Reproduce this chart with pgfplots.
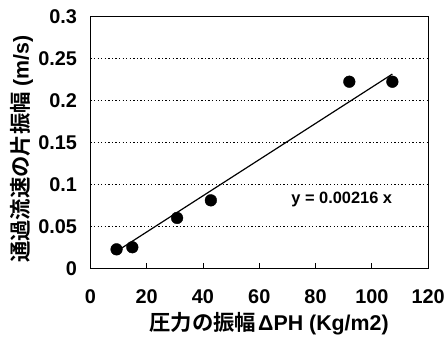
\documentclass[border=0pt]{standalone}
\usepackage{fontspec}
\setmainfont{Liberation Sans}
\newfontfamily\jp{Noto Sans CJK JP}[BoldFont={Noto Sans CJK JP Bold}]
\usepackage{pgfplots}
\pgfplotsset{compat=1.18}
\begin{document}
\begin{tikzpicture}
\begin{axis}[
  scale only axis,
  width=340pt, height=253pt,
  xmin=0, xmax=120, ymin=0, ymax=0.3,
  xtick={0,20,40,60,80,100,120},
  ytick={0,0.05,0.1,0.15,0.2,0.25,0.3},
  yticklabels={0,0.05,0.1,0.15,0.2,0.25,0.3},
  xticklabels={0,20,40,60,80,100,120},
  xtick pos=lower,
  tick align=inside,
  major tick length=5pt,
  x tick style={black, line width=0.7pt},
  y tick style={draw=none},
  ymajorgrids,
  grid style={black, line width=1pt, dash pattern=on 1.3pt off 2.3pt},
  axis line style={black, line width=1.1pt},
  tick label style={font=\bfseries\fontsize{20}{20}\selectfont},
  /pgf/number format/assume math mode=true,
  xticklabel style={yshift=-18pt},
  yticklabel style={xshift=-10pt},
  xlabel={{\jp\bfseries 圧力の振幅}\hspace{2pt}\textbf{ΔPH (Kg/m2)}},
  ylabel={{\jp\bfseries 通過流速の片振幅}\textbf{ (m/s)}},
  xlabel style={font=\fontsize{21.5}{21.5}\selectfont, at={(axis description cs:0.529,-0.221)}, anchor=center},
  ylabel style={font=\fontsize{21.5}{21.5}\selectfont, at={(axis description cs:-0.203,0.474)}, anchor=center},
  clip=false,
]
\addplot[only marks, mark=*, mark size=5.9pt, black] coordinates {
  (9.3,0.0225) (14.9,0.025) (30.8,0.060) (42.8,0.081) (92.0,0.2226) (107.3,0.2226)
};
\addplot[black, line width=1.2pt, no marks] coordinates {(10.5,0.02268) (107.3,0.23177)};
\node[font=\bfseries\fontsize{16.5}{16.5}\selectfont, anchor=base] at (axis cs:89.3,0.077) {y = 0.00216 x};
\end{axis}
\path ([shift={(-91pt,-71pt)}]current axis.south west) rectangle ([shift={(17pt,17pt)}]current axis.north east);
\end{tikzpicture}
\end{document}
